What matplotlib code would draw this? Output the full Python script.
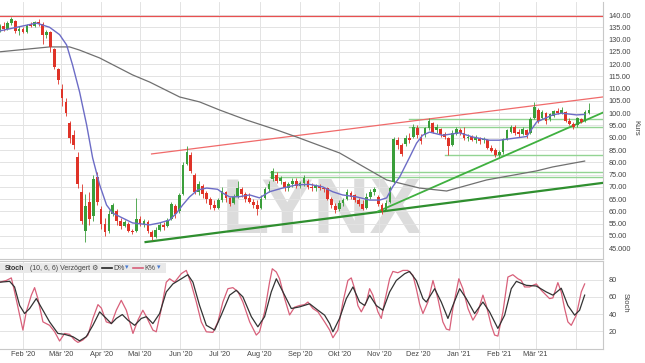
import matplotlib
matplotlib.use("Agg")
import matplotlib.pyplot as plt
import matplotlib.dates as mdates
from matplotlib import font_manager
from matplotlib.patches import Rectangle
from matplotlib.lines import Line2D
import numpy as np
import pandas as pd

plt.rcParams['font.family'] = ['Liberation Sans', 'DejaVu Sans']

W, H = 645, 363
base = pd.Timestamp("2020-01-14")

# ---------------- data ----------------
# one candle every 3 calendar days, starting 2020-01-14
opens = [133.5, 135.5, 134.5, 136.8, 137.5, 133.5, 134.5, 133, 136, 135.5,
         137, 136.5, 132, 133, 126, 118, 110, 104.5, 96, 91,
         82, 68, 52, 64, 58, 74, 61, 55, 52, 59,
         60, 56, 54, 55, 52, 52, 57, 55, 55.5, 51.5,
         49.5, 52.5, 54.5, 54, 57, 62, 60, 67, 79.5, 83,
         75, 68, 70.5, 67.5, 65, 62.5, 61.5, 64.5, 68, 65.5,
         63.5, 66, 69, 67, 65.5, 64, 62.5, 61.5, 65.5, 69,
         73, 75, 72.5, 72, 69.5, 71, 72.5, 70.5, 71.5, 72.5,
         70, 69.5, 70.5, 69.5, 69.5, 65, 62, 61, 63.5, 65,
         67.5, 66.5, 64.5, 63, 61.5, 66, 68, 66, 62.5, 60.5,
         64, 72, 89, 87, 87.5, 90, 90.5, 94, 90.5, 91,
         94, 96, 93, 93.5, 91.5, 90, 87, 91.5, 93, 92,
         90, 90.5, 89, 90, 89, 89, 86, 85, 83, 84,
         89.5, 92.5, 94.5, 92.5, 91.5, 93, 92, 98, 101.5, 98,
         100, 97.5, 99, 101, 100, 100.5, 97, 95.5, 95, 97.5,
         97, 100]
closes = [135.5, 134.5, 136.8, 138.2, 133.5, 134.5, 133, 136, 135.5, 137,
          136.5, 132, 133, 127, 119, 113.5, 106, 100, 90, 87,
          71, 56, 62, 57, 73, 64, 55, 51.5, 59, 62.5,
          56, 54, 55.5, 52, 51.5, 57, 55, 56, 52, 49.5,
          52.5, 54.5, 53.5, 56.5, 63, 59, 66.5, 79, 84, 76.5,
          68, 71, 67, 65, 62.5, 61.5, 64.5, 68.5, 65.5, 63,
          66, 69.5, 67, 65, 64, 62.5, 61, 65, 69, 71,
          76.5, 72.5, 73.5, 69.5, 71, 72.5, 70.5, 71.5, 73.5, 70,
          69.5, 70.5, 69.5, 69, 65, 62.5, 60.5, 63.5, 64.5, 68,
          66, 64.5, 63, 61, 66, 68, 69, 63, 60, 63.5,
          69.5, 89.5, 87, 83.5, 90, 89, 94.5, 91, 88.5, 94,
          97, 92.5, 94.5, 91.5, 90.5, 86.5, 92, 93.5, 92, 90,
          90.5, 89, 90, 88.5, 89.5, 86, 84.5, 83, 84, 89.5,
          93, 94.5, 92, 91.5, 93.5, 91, 97.5, 102.5, 97, 100.5,
          97, 99.5, 101, 100, 101.5, 97, 95.5, 94.5, 98, 96.5,
          100.5, 101.5]
highs = [136.5, 137, 137.5, 139, 138, 135.5, 135, 136.5, 137, 137.5,
         138.5, 137, 134, 133.5, 126.5, 118.5, 112, 106, 97, 93,
         84, 71, 67, 68, 75, 76, 62, 57.5, 60.5, 63.5,
         61, 57.5, 56.5, 55.5, 53, 65.5, 58, 57, 56.5, 52.5,
         53.5, 55.5, 55.5, 57.5, 64, 63, 67.5, 80, 86.5, 84,
         75.5, 72.5, 71, 68.5, 66, 64.5, 65.5, 70, 68.5, 66,
         67, 72.5, 70, 68, 67.5, 65, 64.5, 66.5, 70, 72.5,
         77.5, 76, 74.5, 72.5, 72, 73.5, 73.5, 72.5, 75, 73,
         71.5, 71, 71, 70, 70, 66, 63.5, 64.5, 65.5, 69,
         68.5, 67, 65.5, 64.5, 67.5, 69, 70, 66.5, 63.5, 64.5,
         70.5, 90.5, 90.5, 88, 91, 92, 95.5, 95, 91.5, 94.5,
         98, 96.5, 95.5, 94, 92.5, 90.5, 93, 94.5, 94, 94.5,
         91.5, 91, 91, 90.5, 90.5, 89.5, 87, 86, 85, 90,
         93.5, 95, 95, 93.5, 94.5, 93.5, 98.5, 104.5, 102, 101.5,
         100.5, 100, 101.5, 102, 102.5, 101, 98, 96.5, 98.5, 98,
         101.5, 104]
lows = [133, 133.5, 134, 136, 132.5, 132, 132.5, 132.5, 135, 135,
        135.5, 128, 130.5, 125, 118, 112, 103, 99, 88, 85.5,
        69.5, 55, 47.5, 54.5, 56, 62.5, 53, 50, 51, 58,
        54.5, 53, 53.5, 51.5, 50.8, 51.5, 54, 53.5, 51, 48.4,
        49, 52, 52.5, 53.5, 56.5, 57.5, 59.5, 66.5, 79, 75.5,
        67, 66.5, 65.5, 63.5, 61, 60.5, 61, 64, 64, 62,
        63, 65.5, 66, 64, 63.5, 61.5, 58.5, 61, 65, 68,
        72.5, 71.5, 71, 68.5, 68.5, 70, 69.5, 69.5, 70.5, 69,
        68.5, 68.5, 68.8, 68, 64.5, 61.5, 59.5, 60, 62, 64.5,
        65, 64, 62, 60.5, 61, 65, 66.5, 62, 59, 60,
        63.5, 71.5, 85.5, 82.5, 86.5, 88, 90, 90, 87.5, 90.5,
        93, 92, 92, 90.5, 89.5, 83, 86.5, 91, 91, 89,
        88.5, 88.5, 88, 87.5, 88, 85.5, 84, 82, 82, 83.5,
        89, 92, 91, 90.5, 91, 90, 91.5, 97.5, 96, 97.5,
        95.5, 97, 98.5, 99.5, 99.5, 96.5, 95, 93.5, 94.5, 96,
        96.5, 99.5]

# moving averages: (days after 2020-01-14, price)
ma_short = [(0, 133.5), (13.1, 135), (28.4, 136.7), (38.4, 135), (46.1, 132), (51.5, 127.8),
            (56.1, 119.6), (61.5, 108.6), (66.9, 95.2), (71.5, 81.8), (76.9, 70.8), (82.2, 62.6),
            (86.9, 59.3), (94.5, 57.3), (102.2, 55.3), (115.3, 54.5), (123, 55.3), (130.7, 56.5),
            (136, 59.3), (140.7, 62.6), (146, 65.9), (152.2, 68.7), (159.1, 69.5), (167.6, 69),
            (171.4, 67.5), (176.8, 65.9), (184.5, 66), (192.2, 66.7), (199.8, 65.5), (207.5, 68),
            (217.5, 69.5), (228.3, 70.8), (238.3, 71), (248.3, 70), (256, 68), (263.6, 66.7),
            (274.4, 65.9), (284.4, 64.6), (292.1, 64.6), (297.5, 65.5), (302.1, 70), (307.5, 74),
            (315.1, 82), (320.5, 87.8), (325.1, 91), (330.5, 92.3), (340.5, 91), (353.6, 92),
            (363.6, 90.3), (376.6, 89), (384.3, 89), (405.1, 90.5), (412.8, 96.4), (425.1, 99.3),
            (432, 100), (443.5, 99.3), (449.7, 99.5)]
ma_long = [(0, 125), (38.4, 127), (53.8, 127), (61.5, 125.7), (76.9, 122.5), (102.2, 115.6),
           (115.3, 112.7), (138.4, 106.6), (153.7, 104.6), (169.1, 101.3), (189.9, 97.2),
           (212.9, 93.2), (228.3, 90.3), (261.3, 83.8), (297.5, 72.8), (322.8, 69.5),
           (343.6, 68.3), (374.3, 72.8), (412.8, 76.5), (425.1, 78.1), (449.7, 80.5)]

# stochastic (days after 2020-01-14, value)
stoch_k = [(0, 77), (5.1, 79), (9, 82), (11.5, 66), (15.4, 39), (17.9, 21.5), (20.5, 42.6),
           (24.4, 62), (26.9, 70.7), (29.4, 58), (33.3, 31), (38.4, 27), (42.3, 19.5), (46.1, 8.8),
           (50, 17.6), (53.8, 16.5), (57.6, 10), (60.2, 7.2), (64, 10), (67.9, 15.7), (71.7, 35),
           (75.6, 51), (78.2, 47), (82, 31), (85.9, 29), (89.7, 44.5), (93.5, 56), (97.4, 44.5),
           (102.5, 17.6), (106.3, 33), (110.1, 44.5), (112.8, 37), (117.8, 21.5), (120.4, 19.5),
           (124.3, 46), (128.1, 77), (130.7, 81), (134.5, 77), (139.7, 87), (143.5, 90.7),
           (147.3, 75), (151.2, 54), (155, 31), (158.9, 19.5), (164, 18.8), (167.8, 31),
           (171.6, 54), (175.5, 69.5), (179.3, 70.7), (183.2, 66), (187, 54), (192.2, 31),
           (197.3, 15.7), (199.8, 19.5), (203.7, 42.6), (207.5, 77), (209.6, 92.6), (212.7, 88.8),
           (215.2, 81), (219.1, 58), (222.9, 39), (226.7, 48), (230.6, 50), (234.4, 51), (237, 54),
           (240.8, 46.5), (244.7, 42.6), (249.8, 31), (253.7, 21.5), (256.2, 12.6), (260, 21.5),
           (263.9, 54), (267.7, 79), (270.3, 82), (272.9, 69.5), (275.4, 50), (278, 42.6),
           (281.9, 54), (284.4, 69.5), (286.9, 62), (290.8, 42.6), (293.4, 35), (295.9, 54),
           (299.8, 81), (302.3, 89.5), (306.1, 88), (310, 90.7), (313.8, 90.7), (317.7, 85),
           (320.3, 69.5), (322.8, 52), (325.4, 40.7), (329.2, 54), (333.1, 79), (336.9, 58),
           (340.7, 31), (343.4, 22.6), (345.9, 21.5), (348.4, 46.5), (351, 65.7), (353, 81),
           (356.1, 69.5), (360, 46.5), (363.8, 33), (367.6, 42.6), (371.5, 62), (374.1, 50),
           (377.9, 27), (380.5, 15.7), (383, 14.5), (386.9, 42.6), (390.7, 83), (394.5, 85.7),
           (398.4, 81), (401, 79), (403.5, 71.5), (407.4, 71.5), (409.9, 73.4), (412.5, 75),
           (416.4, 67.6), (418.9, 63.8), (422.7, 58), (425.3, 58.8), (429.1, 76.5), (431.7, 65.7),
           (434.3, 46.5), (436.8, 31), (439.4, 27), (443.3, 38.8), (447.1, 65.7), (449.7, 75)]
stoch_d = [(0, 77), (7.7, 78), (11.5, 71.5), (15.4, 50), (19.2, 40.7), (23.1, 46.5), (28.2, 58),
           (33.3, 44.5), (38.4, 31), (44.8, 17.6), (50, 16.5), (56.3, 13.8), (61.5, 9), (66.6, 13.8),
           (71.7, 27), (76.9, 42.6), (82, 35), (85.9, 29), (89.7, 35), (94.3, 39.5), (98.6, 33),
           (103.8, 27), (108.9, 35), (112.8, 37), (117.8, 29), (123, 40.7), (128.1, 65.7),
           (133.2, 75), (139.7, 81), (144.7, 85.7), (148.6, 77), (153.7, 50), (158.9, 27),
           (165.3, 21.5), (170.4, 39), (176.8, 62), (181.9, 67.6), (187, 60), (193.5, 37),
           (198.5, 25.3), (203.7, 37), (208.8, 65.7), (212.7, 81), (217.8, 65.7), (224.2, 46.5),
           (230.6, 48.4), (238.3, 52), (244.7, 44.5), (249.8, 38.8), (253.7, 29), (256.2, 19.5),
           (261.3, 35), (266.5, 58), (271.6, 71.5), (276.7, 54), (280.6, 50), (284.4, 62),
           (289.5, 50), (294.6, 44.5), (299.8, 65.7), (304.9, 79), (311.3, 86.8), (315.1, 89.5),
           (320.3, 79), (325.4, 58), (328, 54), (334.4, 69.5), (339.5, 54), (344.6, 35),
           (348.4, 50), (353.6, 69.5), (358.7, 58), (365.1, 40.7), (371.5, 54), (376.6, 42.6),
           (383, 23.4), (388.2, 38.8), (393.3, 69.5), (397.2, 78), (404.8, 73.4), (412.5, 72.6),
           (420.2, 65.7), (425.3, 62), (431.7, 70), (436.8, 50), (442, 38.8), (445.8, 44.5),
           (449.7, 62)]

resistance = 139.6
# horizontal support lines: (start day, price)
support_levels = [(315, 97.5), (315, 94.3), (342, 83), (207.5, 76.2), (207.5, 74.2)]
# trend lines: (day0, price0, day1, price1)
trend_red = (116.8, 83.4, 463.5, 106.6)
trend_green = (112.2, 47.5, 463.5, 71.6)
trend_green_steep = (290.5, 59.9, 463.5, 100.2)

month_starts = pd.date_range("2020-02-01", "2021-04-01", freq="MS")
month_labels = ["Feb '20", "Mär '20", "Apr '20", "Mai '20", "Jun '20", "Jul '20", "Aug '20",
                "Sep '20", "Okt '20", "Nov '20", "Dez '20", "Jan '21", "Feb '21", "Mär '21", ""]
price_ticks = list(range(45, 141, 5))
stoch_ticks = [20, 40, 60, 80]


def day_num(days):
    return mdates.date2num((base + pd.to_timedelta(np.asarray(days, dtype=float), unit="D")).to_numpy())


def fx(px):
    return px / W


def fy(py):
    return 1 - py / H


# ---------------- figure ----------------
fig = plt.figure(figsize=(W / 100, H / 100), dpi=100, facecolor="white")
ax = fig.add_axes([0, fy(259), fx(603), (259 - 2) / H])
ax2 = fig.add_axes([0, fy(348.6), fx(603), (348.6 - 261) / H])

x_left, x_right = day_num([0.3, 463.8])
grid_c = "#e3e3e3"
txt_c = "#444444"

for a in (ax, ax2):
    a.set_xlim(x_left, x_right)
    a.set_xticks(mdates.date2num(month_starts.to_numpy()))
    a.grid(True, color=grid_c, lw=0.7)
    a.set_axisbelow(True)
    a.yaxis.tick_right()
    for s in ("left", "top"):
        a.spines[s].set_visible(False)
    for s in ("right", "bottom"):
        a.spines[s].set_color("#c8c8c8")
        a.spines[s].set_linewidth(0.8)

# watermark
wm_family, wm_size = "Liberation Sans", 56
try:
    font_manager.findfont(font_manager.FontProperties(family="Liberation Sans Narrow", weight="bold"),
                          fallback_to_default=False)
    wm_family, wm_size = "Liberation Sans Narrow", 70
except Exception:
    pass
ax.text(fx(322), fy(233), "LYNX", transform=fig.transFigure, ha="center", va="baseline",
        fontsize=wm_size, fontweight="bold", family=wm_family, color="#dcdcdc", zorder=0.5)

# main panel
ax.set_ylim(40.6, 145.3)
ax.set_yticks(price_ticks)
ax.set_yticklabels(["45.000" if p == 45 else "%.2f" % p for p in price_ticks])
ax.tick_params(axis="y", length=0, pad=4, labelsize=5.3, colors=txt_c)
ax.tick_params(axis="x", length=0, labelbottom=False)

ax.axhline(resistance, color="#e85050", lw=0.9, zorder=3)
for d0, p in support_levels:
    ax.plot(day_num([d0, 463.8]), [p, p], color="#93d493", lw=1.0, zorder=3)
for (d0, p0, d1, p1), col, lw in ((trend_red, "#f06a6a", 0.9),
                                  (trend_green, "#2f8f2f", 1.6),
                                  (trend_green_steep, "#3fb03f", 1.3)):
    ax.plot(day_num([d0, d1]), [p0, p1], color=col, lw=lw, zorder=3)

md, mv = zip(*ma_long)
ax.plot(day_num(md), mv, color="#707070", lw=0.9, zorder=3)

cd = mdates.date2num(pd.date_range("2020-01-14", periods=len(opens), freq="3D").to_numpy())
o = np.array(opens)
c = np.array(closes)
up = c >= o
cols = np.where(up, "#3a9e3a", "#df3328")
ax.vlines(cd, lows, highs, colors=cols, lw=0.6, zorder=4)
body = c - o
body = np.where(np.abs(body) < 0.3, 0.3, body)
ax.bar(cd, body, bottom=o, width=2.1, color=cols, linewidth=0, zorder=5)

md, mv = zip(*ma_short)
ax.plot(day_num(md), mv, color="#6c6cc6", lw=1.0, zorder=6)

fig.text(fx(636), fy(128), "Kurs", rotation=270, ha="center", va="center", fontsize=5.5, color=txt_c)

# stochastic panel
ax2.set_ylim(0, 101.6)
ax2.set_yticks(stoch_ticks)
ax2.tick_params(axis="y", length=0, pad=4, labelsize=5.3, colors=txt_c)
ax2.set_xticklabels(month_labels)
ax2.tick_params(axis="x", length=0, pad=2, labelsize=5.3, colors=txt_c)
ax2.spines["top"].set_visible(True)
ax2.spines["top"].set_color("#c8c8c8")

kd, kv = zip(*stoch_k)
ax2.plot(day_num(kd), kv, color="#d8607a", lw=0.9)
dd, dv = zip(*stoch_d)
ax2.plot(day_num(dd), dv, color="#333333", lw=0.9)

fig.text(fx(625), fy(303), "Stoch", rotation=270, ha="center", va="center", fontsize=5.5, color=txt_c)

# stoch header
fig.patches.append(Rectangle((fx(0), fy(273)), fx(166), 10 / H, transform=fig.transFigure,
                             facecolor="#e9e9e9", edgecolor="none", zorder=5))
fig.text(fx(5), fy(268), "Stoch", fontsize=5, fontweight="bold", color="#333333", va="center", zorder=6)
fig.text(fx(30), fy(268), "(10, 6, 6) Verzögert \u2699", fontsize=5, color="#444444", va="center", zorder=6)
fig.add_artist(Line2D([fx(102), fx(112)], [fy(268), fy(268)], color="#222222", lw=1.2, zorder=6))
fig.text(fx(113), fy(268), "D%", fontsize=5, color="#444444", va="center", zorder=6)
fig.text(fx(125), fy(268), "\u25be", fontsize=5, color="#4a7bd0", va="center", zorder=6)
fig.add_artist(Line2D([fx(133), fx(143)], [fy(268), fy(268)], color="#d8607a", lw=1.2, zorder=6))
fig.text(fx(144), fy(268), "K%", fontsize=5, color="#444444", va="center", zorder=6)
fig.text(fx(157), fy(268), "\u25be", fontsize=5, color="#4a7bd0", va="center", zorder=6)

fig.savefig("out.png", dpi=100, facecolor="white")
